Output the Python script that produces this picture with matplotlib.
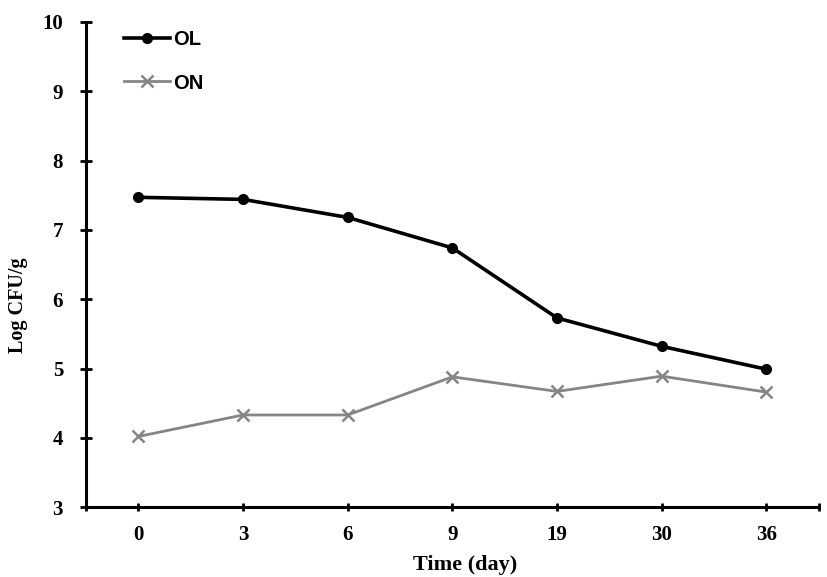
import matplotlib
matplotlib.use("Agg")
from matplotlib import pyplot as plt

days = ['0', '3', '6', '9', '19', '30', '36']
ol = [7.47, 7.44, 7.18, 6.74, 5.73, 5.32, 4.99]
on = [4.02, 4.33, 4.33, 4.88, 4.67, 4.89, 4.66]

fig = plt.figure(figsize=(8.27, 5.77), dpi=100)
ax = fig.add_axes([0.104, 0.121, 0.886, 0.841])

x = list(range(len(days)))
ax.plot(x, ol, color='black', lw=2.6, marker='o', ms=7, label='OL')
ax.plot(x, on, color='#858585', lw=2.0, marker='x', ms=8, mew=1.8, label='ON')

ax.set_xlim(-0.5, len(days) - 0.5)
ax.set_ylim(3, 10)
ax.set_xticks(x)
ax.set_xticklabels(days)
ax.set_xticks([-0.5, len(days) - 0.5], minor=True)
ax.set_yticks(range(3, 11))

for s in ['top', 'right']:
    ax.spines[s].set_visible(False)
for s in ['left', 'bottom']:
    ax.spines[s].set_linewidth(2.2)

ax.tick_params(axis='y', direction='inout', length=9, width=2, pad=12)
ax.tick_params(axis='x', which='both', direction='inout', length=6, width=2, pad=10)

for lab in ax.get_xticklabels() + ax.get_yticklabels():
    lab.set_fontfamily('Liberation Serif')
    lab.set_fontweight('bold')
    lab.set_fontsize(15)

ax.set_xlabel('Time (day)', fontfamily='Liberation Serif', fontweight='bold', fontsize=16)
ax.set_ylabel('Log CFU/g', fontfamily='Liberation Serif', fontweight='bold', fontsize=14.5)
ax.xaxis.set_label_coords(0.518, -0.098)
ax.yaxis.set_label_coords(-0.079, 0.416)

ax.legend(loc='upper left', bbox_to_anchor=(0.027, 1.02), frameon=False,
          prop={'family': 'Liberation Sans', 'weight': 'bold', 'size': 14.5},
          handlelength=2.3, handletextpad=0.15, labelspacing=1.2)

fig.savefig('out.png', dpi=100)
